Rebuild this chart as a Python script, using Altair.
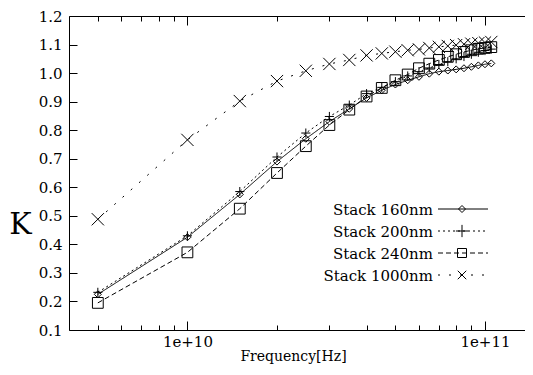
import altair as alt
import pandas as pd

# ---------------- data ----------------
freq_hz = [5e9, 1e10, 1.5e10, 2e10, 2.5e10, 3e10, 3.5e10, 4e10, 4.5e10, 5e10, 5.5e10,
           6e10, 6.5e10, 7e10, 7.5e10, 8e10, 8.5e10, 9e10, 9.5e10, 1e11, 1.05e11]
k_160 = [0.225, 0.425, 0.575, 0.690, 0.770, 0.830, 0.875, 0.913, 0.940, 0.960, 0.975,
         0.987, 0.998, 1.005, 1.009, 1.013, 1.017, 1.022, 1.027, 1.031, 1.034]
k_200 = [0.232, 0.430, 0.585, 0.706, 0.790, 0.848, 0.888, 0.928, 0.950, 0.970, 0.990,
         1.005, 1.018, 1.030, 1.040, 1.050, 1.058, 1.066, 1.073, 1.079, 1.084]
k_240 = [0.195, 0.372, 0.525, 0.650, 0.744, 0.818, 0.872, 0.918, 0.948, 0.975, 0.995,
         1.017, 1.033, 1.046, 1.057, 1.066, 1.074, 1.080, 1.085, 1.088, 1.091]
k_1000 = [0.488, 0.766, 0.902, 0.972, 1.008, 1.032, 1.046, 1.062, 1.069, 1.075, 1.080,
          1.083, 1.088, 1.092, 1.095, 1.098, 1.101, 1.103, 1.105, 1.107, 1.109]
series_names = ["Stack 160nm", "Stack 200nm", "Stack 240nm", "Stack 1000nm"]
y_ticks = [0.1, 0.2, 0.3, 0.4, 0.5, 0.6, 0.7, 0.8, 0.9, 1.0, 1.1, 1.2]
x_major = [1e10, 1e11]
x_minor = [5e9, 6e9, 7e9, 8e9, 9e9, 2e10, 3e10, 4e10, 5e10, 6e10, 7e10, 8e10, 9e10]

rows = []
for name, vals in zip(series_names, [k_160, k_200, k_240, k_1000]):
    for f, v in zip(freq_hz, vals):
        rows.append({"series": name, "freq": f, "K": v})
df = pd.DataFrame(rows)
legend_df = pd.DataFrame({"series": series_names})

# ---------------- style ----------------
FONT = "DejaVu Serif"
W, H = 456, 314
dash_range = [[1, 0], [2, 3], [5, 3], [2, 9]]
shape_range = ["diamond", "M-1,0L1,0M0,-1L0,1", "square", "M-1,-1L1,1M-1,1L1,-1"]
size_range = [49, 150, 81, 72]

# the frame of the original runs past the right edge of the picture;
# the plot area here stops at the page edge, keeping the same px per decade
xscale = alt.Scale(type="log", domain=[4e9, 1.363e11], nice=False)
yscale = alt.Scale(domain=[0.1, 1.2], nice=False, zero=False)


def tick_axis(orient, values, size, offset, domain=False):
    return alt.Axis(orient=orient, values=values, tickSize=size, offset=offset,
                    labels=False, domain=domain, domainColor="black", domainWidth=1,
                    grid=False, ticks=True, tickColor="black", tickWidth=1)


x_main = alt.Axis(orient="bottom", values=x_major, format=".0e", ticks=False, tickSize=0,
                  domain=True, domainColor="black", domainWidth=1, grid=False,
                  labelFont=FONT, labelFontSize=15,
                  labelColor="black", labelPadding=4, labelOverlap=False,
                  title="Frequency[Hz]", titleFont=FONT, titleFontSize=14,
                  titleFontWeight="normal", titleColor="black", titleX=224, titleY=30,
                  titleAlign="center", titleBaseline="alphabetic")
y_main = alt.Axis(orient="left", values=y_ticks, format=".1f", ticks=False, tickSize=0,
                  domain=True, domainColor="black", domainWidth=1, grid=False,
                  labelFont=FONT, labelFontSize=15,
                  labelColor="black", labelPadding=7, labelOverlap=False,
                  title="K", titleFont=FONT, titleFontSize=30, titleFontWeight="normal",
                  titleColor="black", titleAngle=0, titleX=-49, titleY=208,
                  titleAlign="center", titleBaseline="middle")

dash_enc = alt.StrokeDash("series:N", scale=alt.Scale(domain=series_names, range=dash_range),
                          legend=None)
shape_enc = alt.Shape("series:N", scale=alt.Scale(domain=series_names, range=shape_range),
                      legend=None)
size_enc = alt.Size("series:N", scale=alt.Scale(domain=series_names, range=size_range),
                    legend=None)

lines = alt.Chart(df).mark_line(color="black", strokeWidth=1).encode(
    x=alt.X("freq:Q", scale=xscale, axis=x_main),
    y=alt.Y("K:Q", scale=yscale, axis=y_main),
    strokeDash=dash_enc,
)

points = alt.Chart(df).mark_point(filled=False, color="black", opacity=1, strokeWidth=1).encode(
    x=alt.X("freq:Q", scale=xscale, axis=tick_axis("top", x_major, 9, -H), title=None),
    y=alt.Y("K:Q", scale=yscale, axis=tick_axis("right", y_ticks, 8, -W), title=None),
    shape=shape_enc,
    size=size_enc,
)

ghost1 = alt.Chart(df).mark_point(opacity=0).encode(
    x=alt.X("freq:Q", scale=xscale, axis=tick_axis("top", x_minor, 5, -H), title=None),
    y=alt.Y("K:Q", scale=yscale, axis=None),
)
ghost2 = alt.Chart(df).mark_point(opacity=0).encode(
    x=alt.X("freq:Q", scale=xscale, axis=tick_axis("bottom", x_major, 9, -H, True), title=None),
    y=alt.Y("K:Q", scale=yscale, axis=None),
)
ghost3 = alt.Chart(df).mark_point(opacity=0).encode(
    x=alt.X("freq:Q", scale=xscale, axis=tick_axis("bottom", x_minor, 5, -H), title=None),
    y=alt.Y("K:Q", scale=yscale, axis=None),
)

# ---------------- hand-made legend (text left, sample right) ----------------
LEG_TOP, LEG_STEP = 193, 22
TEXT_X, LINE_X1, LINE_X2, MARK_X = 364, 369, 419, 393
legend_layers = []
for i, name in enumerate(series_names):
    ry = LEG_TOP + i * LEG_STEP
    sub = legend_df[legend_df["series"] == name]
    legend_layers.append(
        alt.Chart(sub).mark_text(align="right", baseline="middle", font=FONT, fontSize=15,
                                 color="black").encode(
            x=alt.value(TEXT_X), y=alt.value(ry + 1), text="series:N")
    )
    legend_layers.append(
        alt.Chart(sub).mark_rule(color="black", strokeWidth=1, strokeDash=dash_range[i]).encode(
            x=alt.value(LINE_X1), x2=alt.value(LINE_X2), y=alt.value(ry))
    )
    legend_layers.append(
        alt.Chart(sub).mark_point(filled=False, color="black", opacity=1, strokeWidth=1,
                                  shape=shape_range[i], size=size_range[i]).encode(
            x=alt.value(MARK_X), y=alt.value(ry))
    )

chart = alt.layer(lines, points, ghost1, ghost2, ghost3, *legend_layers).resolve_axis(
    x="independent", y="independent"
).properties(
    width=W, height=H,
    autosize=alt.AutoSizeParams(type="none"),
    padding={"left": 61, "top": 8, "right": 0, "bottom": 37},
    background="white",
).configure_view(
    strokeWidth=0
)

chart.save("out.html", embed_options={"renderer": "svg", "actions": False})
